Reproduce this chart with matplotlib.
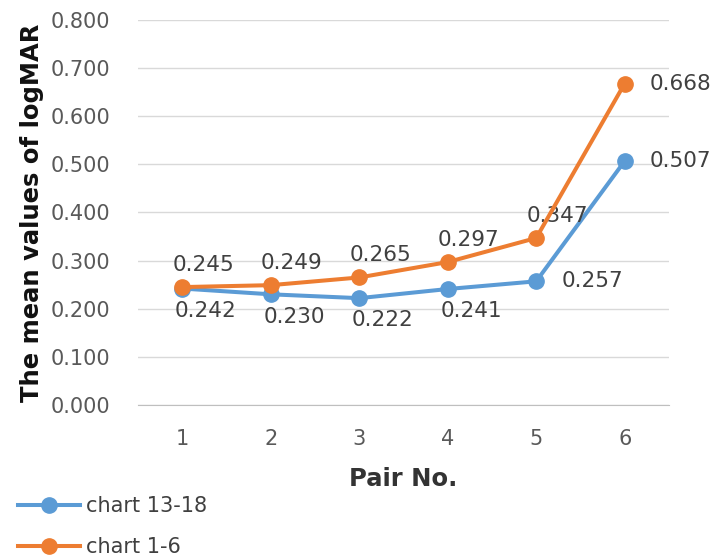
import matplotlib.pyplot as plt

# data
pairs = [1, 2, 3, 4, 5, 6]
chart_13_18 = [0.242, 0.230, 0.222, 0.241, 0.257, 0.507]
chart_1_6 = [0.245, 0.249, 0.265, 0.297, 0.347, 0.668]
yticks = [0.0, 0.1, 0.2, 0.3, 0.4, 0.5, 0.6, 0.7, 0.8]

blue = '#5B9BD5'
orange = '#ED7D31'
grey = '#595959'

plt.rcParams['font.family'] = ['DejaVu Sans']

fig = plt.figure(figsize=(7.16, 5.57), dpi=100)
ax = fig.add_axes([0.1927, 0.2729, 0.7416, 0.6912])

l1, = ax.plot(pairs, chart_13_18, color=blue, lw=2.9, marker='o', ms=11,
              label='chart 13-18', zorder=3)
l2, = ax.plot(pairs, chart_1_6, color=orange, lw=2.9, marker='o', ms=11,
              label='chart 1-6', zorder=4)

# data labels (blue below, orange above, last ones to the right)
lab_fs = 15.5
for i, (x, v) in enumerate(zip(pairs, chart_13_18)):
    if i >= 4:
        ax.annotate(f'{v:.3f}', (x, v), xytext=(18, 0),
                    textcoords='offset points', ha='left', va='center',
                    fontsize=lab_fs, color='#404040')
    else:
        ax.annotate(f'{v:.3f}', (x, v), xytext=(17, -16),
                    textcoords='offset points', ha='center', va='center',
                    fontsize=lab_fs, color='#404040')
for i, (x, v) in enumerate(zip(pairs, chart_1_6)):
    if i == 5:
        ax.annotate(f'{v:.3f}', (x, v), xytext=(18, 0),
                    textcoords='offset points', ha='left', va='center',
                    fontsize=lab_fs, color='#404040')
    else:
        ax.annotate(f'{v:.3f}', (x, v), xytext=(15, 16),
                    textcoords='offset points', ha='center', va='center',
                    fontsize=lab_fs, color='#404040')

ax.set_xlim(0.5, 6.5)
ax.set_ylim(0, 0.8)
ax.set_xticks(pairs)
ax.set_yticks(yticks)
ax.set_yticklabels([f'{t:.3f}' for t in yticks])
ax.tick_params(axis='both', length=0, labelsize=15, colors=grey)
ax.tick_params(axis='x', pad=17)
ax.tick_params(axis='y', pad=20)
ax.grid(axis='y', color='#D9D9D9', lw=1)
ax.set_axisbelow(True)
for s in ['top', 'right', 'left']:
    ax.spines[s].set_visible(False)
ax.spines['bottom'].set_color('#BFBFBF')

ax.set_xlabel('Pair No.', fontsize=17.5, fontweight='bold', color='#333333', labelpad=13)
ax.set_ylabel('The mean values of logMAR', fontsize=17.5, fontweight='bold',
              color='#111111', labelpad=5)

fig.legend(handles=[l1, l2], loc='center left', bbox_to_anchor=(0.025, 0.0545),
           borderpad=0, borderaxespad=0, frameon=False, fontsize=15,
           handlelength=3.0, handletextpad=0.25, labelspacing=1.0,
           labelcolor='#404040')

fig.savefig('out.png', dpi=100)
